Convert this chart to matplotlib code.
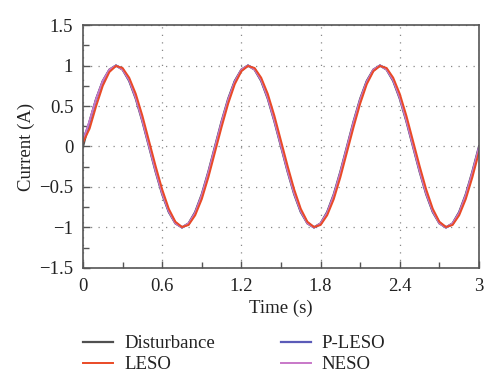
import numpy as np
import matplotlib
matplotlib.use("Agg")
import matplotlib.pyplot as plt
from matplotlib.ticker import MultipleLocator

plt.rcParams['font.family'] = ['Liberation Serif', 'DejaVu Serif']

time = np.round(np.arange(0, 3.0001, 0.05), 2)

disturbance = [0.00, 0.31, 0.59, 0.81, 0.95, 1.00, 0.95, 0.81, 0.59, 0.31,
               0.00, -0.31, -0.59, -0.81, -0.95, -1.00, -0.95, -0.81, -0.59, -0.31,
               0.00, 0.31, 0.59, 0.81, 0.95, 1.00, 0.95, 0.81, 0.59, 0.31,
               0.00, -0.31, -0.59, -0.81, -0.95, -1.00, -0.95, -0.81, -0.59, -0.31,
               0.00, 0.31, 0.59, 0.81, 0.95, 1.00, 0.95, 0.81, 0.59, 0.31,
               0.00, -0.31, -0.59, -0.81, -0.95, -1.00, -0.95, -0.81, -0.59, -0.31,
               0.00]
leso = [0.05, 0.22, 0.50, 0.75, 0.92, 0.995, 0.97, 0.85, 0.65, 0.38,
        0.07, -0.24, -0.53, -0.77, -0.93, -0.995, -0.97, -0.85, -0.65, -0.38,
        -0.07, 0.24, 0.53, 0.77, 0.93, 0.995, 0.97, 0.85, 0.65, 0.38,
        0.07, -0.24, -0.53, -0.77, -0.93, -0.995, -0.97, -0.85, -0.65, -0.38,
        -0.07, 0.24, 0.53, 0.77, 0.93, 0.995, 0.97, 0.85, 0.65, 0.38,
        0.07, -0.24, -0.53, -0.77, -0.93, -0.995, -0.97, -0.85, -0.65, -0.38,
        -0.07]
p_leso = [0.08, 0.30, 0.58, 0.80, 0.94, 1.00, 0.96, 0.82, 0.61, 0.33,
          0.02, -0.29, -0.57, -0.80, -0.94, -1.00, -0.96, -0.82, -0.61, -0.33,
          -0.02, 0.29, 0.57, 0.80, 0.94, 1.00, 0.96, 0.82, 0.61, 0.33,
          0.02, -0.29, -0.57, -0.80, -0.94, -1.00, -0.96, -0.82, -0.61, -0.33,
          -0.02, 0.29, 0.57, 0.80, 0.94, 1.00, 0.96, 0.82, 0.61, 0.33,
          0.02, -0.29, -0.57, -0.80, -0.94, -1.00, -0.96, -0.82, -0.61, -0.33,
          -0.02]
neso = [0.06, 0.32, 0.59, 0.81, 0.95, 1.00, 0.95, 0.82, 0.60, 0.32,
        0.01, -0.30, -0.58, -0.80, -0.95, -1.00, -0.95, -0.82, -0.60, -0.32,
        -0.01, 0.30, 0.58, 0.80, 0.95, 1.00, 0.95, 0.82, 0.60, 0.32,
        0.01, -0.30, -0.58, -0.80, -0.95, -1.00, -0.95, -0.82, -0.60, -0.32,
        -0.01, 0.30, 0.58, 0.80, 0.95, 1.00, 0.95, 0.82, 0.60, 0.32,
        0.01, -0.30, -0.58, -0.80, -0.95, -1.00, -0.95, -0.82, -0.60, -0.32,
        -0.01]

xticks = [0, 0.6, 1.2, 1.8, 2.4, 3]
xticklabels = ['0', '0.6', '1.2', '1.8', '2.4', '3']
yticks = [-1.5, -1, -0.5, 0, 0.5, 1, 1.5]
yticklabels = ['\u22121.5', '\u22121', '\u22120.5', '0', '0.5', '1', '1.5']

fig = plt.figure(figsize=(5.0, 3.86), dpi=100)
ax = fig.add_axes([0.166, 0.306, 0.792, 0.629])

ax.plot(time, disturbance, color='#505050', lw=1.6, label='Disturbance')
ax.plot(time, p_leso, color='#5b5bb8', lw=1.6, label='P-LESO')
ax.plot(time, neso, color='#c878c8', lw=1.4, label='NESO')
ax.plot(time, leso, color='#ea4a26', lw=1.4, label='LESO')

ax.set_xlim(0, 3)
ax.set_ylim(-1.5, 1.5)
ax.set_xticks(xticks)
ax.set_xticklabels(xticklabels)
ax.set_yticks(yticks)
ax.set_yticklabels(yticklabels)
ax.xaxis.set_minor_locator(MultipleLocator(0.3))
ax.yaxis.set_minor_locator(MultipleLocator(0.25))

ax.tick_params(which='both', direction='in', color='#555555', width=1.0,
               labelsize=13.5, labelcolor='#222222', top=False, right=False,
               pad=7)
ax.tick_params(which='major', length=5)
ax.tick_params(which='minor', length=4)
for s in ax.spines.values():
    s.set_color('#555555')
    s.set_linewidth(1.2)

ax.grid(True, which='major', color='#888888', linestyle=(0, (1, 5)), lw=0.9)

ax.set_xlabel('Time (s)', fontsize=13.5, color='#222222')
ax.set_ylabel('Current (A)', fontsize=13.5, color='#222222')
ax.xaxis.set_label_coords(0.5, -(308 - 268) / 243.0, transform=ax.transAxes)
ax.xaxis.label.set_va('center')
ax.yaxis.set_label_coords(-(83 - 26) / 396.0, 0.5, transform=ax.transAxes)
ax.yaxis.label.set_va('center')

handles, labels = ax.get_legend_handles_labels()
order = ['Disturbance', 'LESO', 'P-LESO', 'NESO']
hmap = dict(zip(labels, handles))
leg = fig.legend([hmap[k] for k in order], order, ncol=2,
                 loc='upper left', bbox_to_anchor=(0.132, 0.175),
                 frameon=False, fontsize=13.5, handlelength=1.6,
                 columnspacing=3.5, labelspacing=0.2, handletextpad=0.6)
for t in leg.get_texts():
    t.set_color('#222222')

fig.savefig('out.png', dpi=100)
